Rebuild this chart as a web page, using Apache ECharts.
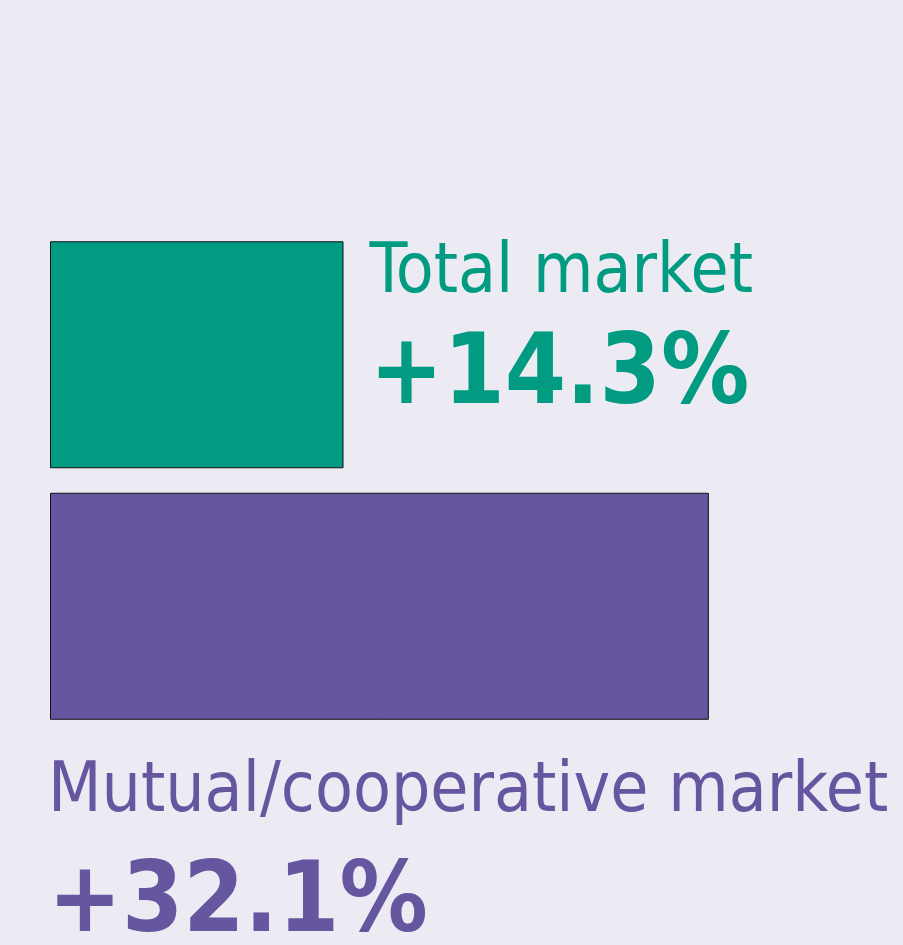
<!DOCTYPE html>
<html>
<head>
<meta charset="utf-8">
<script src="https://cdn.jsdelivr.net/npm/echarts@6/dist/echarts.min.js"></script>
<style>
  html, body { margin: 0; padding: 0; background: #ecebf4; }
  #chart { width: 903px; height: 945px; }
</style>
</head>
<body>
<div id="chart"></div>
<script>
// chart data
const categories = ["Total market", "Mutual/cooperative market"];
const growth = [14.3, 32.1];
const barColors = ["#009b80", "#66559f"];

const FONT = "'Liberation Sans Narrow', 'DejaVu Sans Condensed', sans-serif";

const chartDom = document.getElementById("chart");
const myChart = echarts.init(chartDom);

// label placement: first one to the right of its bar, second one below
const labelPlacement = [
  { position: ["100%", 0], offset: [26, -4], valueLine: 132 },
  { position: [0, "100%"], offset: [-2, 36], valueLine: 152 },
];

let seriesData = growth.map((v, i) => ({
  value: v,
  itemStyle: { color: barColors[i] },
  label: {
    show: true,
    position: labelPlacement[i].position,
    offset: labelPlacement[i].offset,
    align: "left",
    verticalAlign: "top",
    formatter: categories[i] + "\n{v|+" + v.toFixed(1) + "%}",
    color: barColors[i],
    fontFamily: FONT,
    fontSize: 69,
    lineHeight: 74,
    rich: {
      v: {
        color: barColors[i],
        fontFamily: FONT,
        fontWeight: "bold",
        fontSize: 98,
        lineHeight: labelPlacement[i].valueLine,
      },
    },
  },
}));

let option = {
  backgroundColor: "#ecebf4",
  animation: false,
  grid: {
    left: 50,
    width: 821,
    top: 229,
    height: 503,
  },
  xAxis: {
    type: "value",
    min: 0,
    max: 40,
    show: false,
  },
  yAxis: {
    type: "category",
    data: categories,
    inverse: true,
    show: false,
  },
  series: [
    {
      type: "bar",
      barWidth: 227,
      data: seriesData,
      itemStyle: {
        borderColor: "#111111",
        borderWidth: 1,
      },
    },
  ],
};

myChart.setOption(option);

window.addEventListener("resize", () => {
  myChart.resize();
});
</script>
</body>
</html>
